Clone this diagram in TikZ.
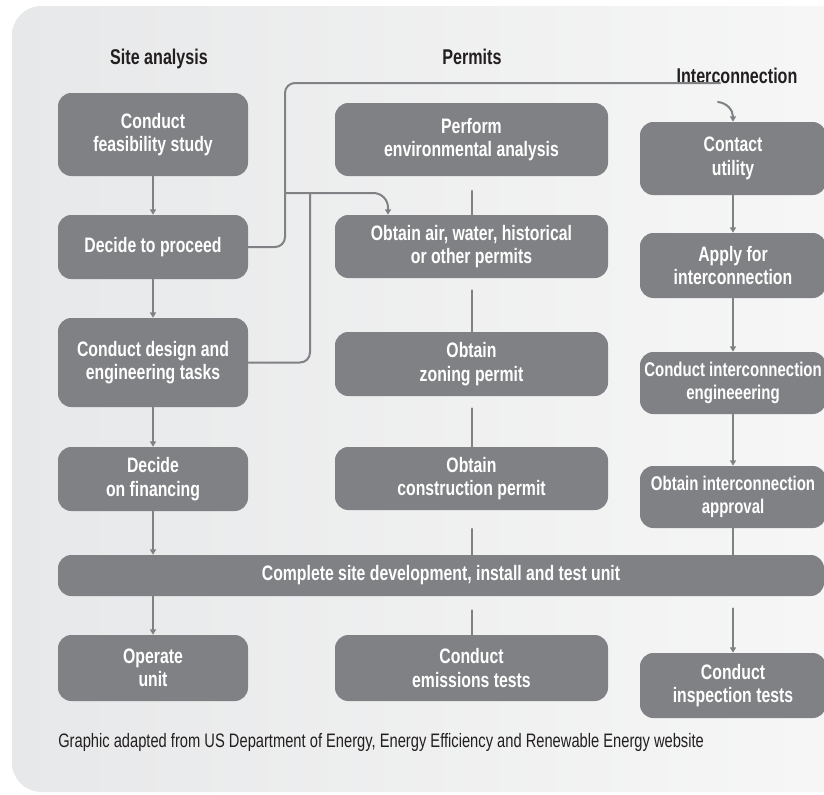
\documentclass[tikz,border=0pt]{standalone}
\usepackage{fontspec}
\setmainfont{Liberation Sans}[FakeStretch=0.755]
\usetikzlibrary{arrows.meta}
\definecolor{boxgray}{HTML}{808184}
\definecolor{bgleft}{HTML}{E7E8E9}
\definecolor{bgright}{HTML}{F7F7F7}
\definecolor{inkdark}{HTML}{231F20}
\begin{document}
\begin{tikzpicture}[x=0.75pt,y=-0.75pt,line cap=round,line join=round,
  task/.style={rectangle,rounded corners=10pt,fill=boxgray,text=white,inner sep=0pt,align=center,
    font=\bfseries\fontsize{15.7}{17.5}\selectfont},
  siteA/.style={task,minimum width=142.5pt},
  permB/.style={task,minimum width=204.75pt},
  gridC/.style={task,minimum width=139.5pt},
  tight/.style={font=\bfseries\fontsize{14.9}{17.5}\selectfont},
  head/.style={anchor=base,text=inkdark,font=\bfseries\fontsize{16}{18}\selectfont},
  flow/.style={draw=boxgray,line width=1.5pt},
  go/.style={flow,-{Triangle[width=4.5pt,length=4pt]}}]
\useasboundingbox (0,0) rectangle (824,794);
\clip (0,0) rectangle (824,794);
\shade[left color=bgleft,right color=bgright,rounded corners=22pt] (12,6) rectangle (870,792);
\node[head] (hsite) at (159,64) {Site analysis};
\node[head] (hperm) at (472,64) {Permits};
\node[head] (hgrid) at (737,83) {Interconnection};
\node[siteA,minimum height=62.25pt] (feas) at (153,134.5) {Conduct\\feasibility study};
\node[siteA,minimum height=48pt] (proceed) at (153,247) {Decide to proceed};
\node[siteA,minimum height=66.75pt] (design) at (153,362.5) {Conduct design and\\engineering tasks};
\node[siteA,minimum height=48pt] (finance) at (153,479) {Decide\\on financing};
\node[siteA,minimum height=49.5pt] (operate) at (153,668) {Operate\\unit};
\node[permB,minimum height=54.75pt] (env) at (471.5,139.5) {Perform\\environmental analysis};
\node[permB,minimum height=47.25pt] (air) at (471.5,246.5) {Obtain air, water, historical\\or other permits};
\node[permB,minimum height=48pt] (zoning) at (471.5,364) {Obtain\\zoning permit};
\node[permB,minimum height=47.25pt] (build) at (471.5,478.5) {Obtain\\construction permit};
\node[permB,minimum height=49.5pt] (emis) at (471.5,668) {Conduct\\emissions tests};
\node[gridC,minimum height=54.75pt] (contact) at (733,158.5) {Contact\\utility};
\node[gridC,minimum height=48.75pt] (apply) at (733,265.5) {Apply for\\interconnection};
\node[gridC,tight,minimum height=46.5pt] (engin) at (733,383) {Conduct interconnection\\engineeering};
\node[gridC,tight,minimum height=46.5pt] (approve) at (733,497) {Obtain interconnection\\approval};
\node[gridC,minimum height=48.75pt] (inspect) at (733,685.5) {Conduct\\inspection tests};
\node[task,minimum width=574.5pt,minimum height=30.75pt] (install) at (441,575.5) {Complete site development, install and test unit};
\node[anchor=base west,inner sep=0pt,text=inkdark,font=\fontsize{14.6}{16}\selectfont] (credit) at (58,747) {Graphic adapted from US Department of Energy, Energy Efficiency and Renewable Energy website};
\coordinate (upbus) at (285,83);
\coordinate (midbus) at (285,193);
\coordinate (gridend) at (720,83);
\coordinate (gridstart) at (718,102);
\draw[go] (feas) -- (proceed);
\draw[go] (proceed) -- (design);
\draw[go] (design) -- (finance);
\draw[go] (finance.south) -- (finance.south |- install.north);
\draw[go] (operate.north |- install.south) -- (operate);
\draw[flow] ([yshift=-11pt]env.south) -- (air.north);
\draw[flow] ([yshift=-9pt]air.south) -- (zoning.north);
\draw[flow] ([yshift=-9pt]zoning.south) -- (build.north);
\draw[flow] ([yshift=-14pt]build.south) -- (build.south |- install.north);
\draw[flow] ([yshift=-10.5pt]emis.north |- install.south) -- (emis.north);
\draw[go] (contact) -- (apply);
\draw[go] (apply) -- (engin);
\draw[go] (engin) -- (approve);
\draw[flow] (approve.south) -- (approve.south |- install.north);
\draw[go] ([yshift=-9pt]inspect.north |- install.south) -- (inspect.north);
\draw[flow,rounded corners=7.5pt] (proceed.east) -| (upbus) -- (gridend);
\draw[flow,rounded corners=7.5pt] (design.east) -| (310,193);
\draw[go,rounded corners=11pt] (midbus) -| (388,0 |- air.north);
\draw[go] (gridstart) .. controls (727,103) and (733,110) .. (contact.north);
\end{tikzpicture}
\end{document}
